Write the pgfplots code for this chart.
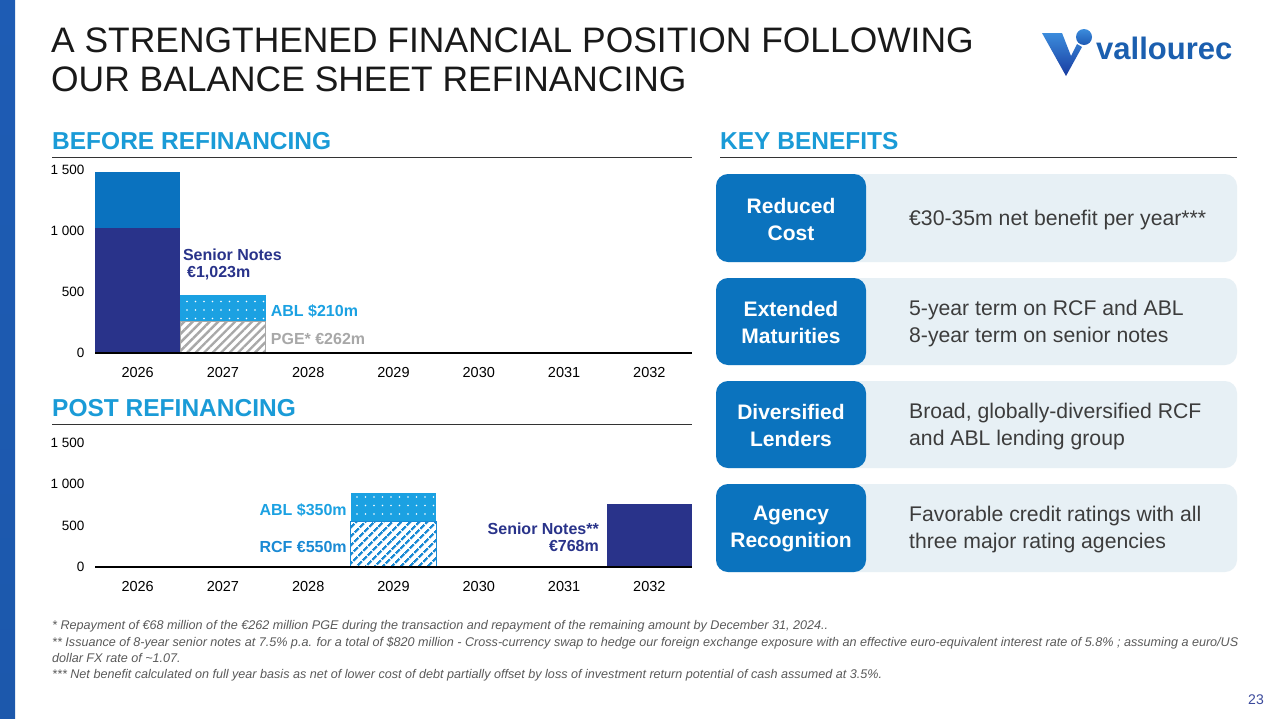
\documentclass[border=0pt]{standalone}
\usepackage{fontspec}
\setmainfont{Liberation Sans}
\usepackage{pgfplots}
\pgfplotsset{compat=1.18}
\usetikzlibrary{patterns.meta}
\definecolor{navy}{HTML}{29338A}
\definecolor{rcfblue}{HTML}{0A72BF}
\definecolor{ablblue}{HTML}{1BA1E2}
\definecolor{hatchblue}{HTML}{1A8AD4}
\definecolor{secblue}{HTML}{1A9BD7}
\definecolor{pgegray}{HTML}{A8A8A8}
\definecolor{boxblue}{HTML}{0B73BE}
\definecolor{boxlight}{HTML}{E7F0F5}
\definecolor{txtgray}{HTML}{3C3C3C}
\definecolor{footgray}{HTML}{5A5A5A}
\definecolor{logoblue}{HTML}{1B5FAF}
\pgfplotsset{
  refax/.style={
    anchor=south west, scale only axis, width=597pt,
    xmin=-0.5, xmax=6.5, ymin=0, ymax=1500,
    ybar stacked, bar width=1, axis on top, clip=false,
    axis x line*=bottom, axis y line*=left,
    axis line style={-},
    y axis line style={draw=none},
    x axis line style={line width=2pt},
    xtick={0,1,2,3,4,5,6},
    xticklabels={2026,2027,2028,2029,2030,2031,2032},
    ytick={0,500,1000,1500},
    yticklabels={0,500,1 000,1 500},
    tick style={draw=none},
    xticklabel style={font=\fontsize{14.5}{15}\selectfont, yshift=-11pt},
    yticklabel style={font=\fontsize{13.5}{14}\selectfont, xshift=-7pt},
  }
}
\begin{document}
\begin{tikzpicture}
\path[use as bounding box] (0,0) rectangle (1280pt,-718pt);
\fill[white] (0,0) rectangle (1280pt,-718pt);
\shade[top color={rgb,255:red,30;green,92;blue,180}, middle color={rgb,255:red,27;green,42;blue,132}, bottom color={rgb,255:red,28;green,88;blue,172}] (0,0) rectangle (15pt,-718pt);
\begin{scope}[x=1pt,y=-1pt]
% title
\node[anchor=base west, inner sep=0, font=\fontsize{35.4}{35}\selectfont, text=black!90] at (51,52) {A STRENGTHENED FINANCIAL POSITION FOLLOWING};
\node[anchor=base west, inner sep=0, font=\fontsize{35.4}{35}\selectfont, text=black!90] at (51,91) {OUR BALANCE SHEET REFINANCING};
% logo
\shade[top color={rgb,255:red,60;green,140;blue,220}, bottom color={rgb,255:red,24;green,60;blue,160}] (1042,33) -- (1062,33) -- (1071,56) -- (1077,44) -- (1082,47) -- (1066,76) -- cycle;
\shade[top color={rgb,255:red,60;green,140;blue,220}, bottom color={rgb,255:red,30;green,90;blue,180}] (1084,37) circle (8);
\node[anchor=base west, inner sep=0, font=\bfseries\fontsize{31}{31}\selectfont, text=logoblue] at (1096,59) {vallourec};
% section headers
\node[anchor=base west, inner sep=0, font=\bfseries\fontsize{24.5}{25}\selectfont, text=secblue] at (52,149) {BEFORE REFINANCING};
\draw[line width=1pt, black!80] (52,157) -- (692,157);
\node[anchor=base west, inner sep=0, font=\bfseries\fontsize{24.5}{25}\selectfont, text=secblue] at (720,149) {KEY BENEFITS};
\draw[line width=1pt, black!80] (720,157) -- (1237,157);
\node[anchor=base west, inner sep=0, font=\bfseries\fontsize{24.5}{25}\selectfont, text=secblue] at (52,416) {POST REFINANCING};
\draw[line width=1pt, black!80] (52,424) -- (692,424);
% key benefits boxes
\foreach \t/\b/\l/\r in {174/262/{Reduced\\Cost}/{€30-35m net benefit per year***},
                         278/365/{Extended\\Maturities}/{5-year term on RCF and ABL\\8-year term on senior notes},
                         381/468/{Diversified\\Lenders}/{Broad, globally-diversified RCF\\and ABL lending group},
                         484/572/{Agency\\Recognition}/{Favorable credit ratings with all\\three major rating agencies}}{
  \fill[boxlight, rounded corners=12pt] (716,\t) rectangle (1237,\b);
  \fill[boxblue, rounded corners=12pt] (716,\t) rectangle (866,\b);
  \node[font=\bfseries\fontsize{21}{27}\selectfont, text=white, align=center] at (791,{(\t+\b)/2+1}) {\l};
  \node[anchor=west, inner sep=0, font=\fontsize{21.2}{27}\selectfont, text=txtgray, align=left] at (909,{(\t+\b)/2+2}) {\r};
}
% footnotes
\begin{scope}[every node/.style={anchor=base west, inner sep=0, font=\itshape\fontsize{12.6}{13}\selectfont, text=footgray}]
\node at (52,629) {* Repayment of €68 million of the €262 million PGE during the transaction and repayment of the remaining amount by December 31, 2024..};
\node at (52,646) {** Issuance of 8-year senior notes at 7.5\% p.a. for a total of \$820 million - Cross-currency swap to hedge our foreign exchange exposure with an effective euro-equivalent interest rate of 5.8\% ; assuming a euro/US};
\node at (52,662) {dollar FX rate of \textasciitilde1.07.};
\node at (52,678) {*** Net benefit calculated on full year basis as net of lower cost of debt partially offset by loss of investment return potential of cash assumed at 3.5\%.};
\end{scope}
\node[font=\fontsize{14}{14}\selectfont, text={rgb,255:red,59;green,74;blue,156}] at (1256,700) {23};
\end{scope}

% BEFORE chart
\begin{axis}[refax, at={(95pt,-353pt)}, height=183pt]
\addplot[fill=white, draw=pgegray, line width=0.6pt, postaction={pattern={Lines[angle=45,distance=6pt,line width=2.4pt]}, pattern color=pgegray}] coordinates {(0,0) (1,262)};
\addplot[fill=ablblue, draw=none, postaction={pattern={Dots[distance=8.5pt,radius=0.9pt]}, pattern color=white}] coordinates {(0,0) (1,210)};
\addplot[fill=navy, draw=none] coordinates {(0,1023) (1,0)};
\addplot[fill=rcfblue, draw=none] coordinates {(0,462) (1,0)};
\node[text=white, font=\bfseries\fontsize{16}{17}\selectfont, align=center] at (axis cs:0,1265) {RCF\\€462m};
\node[anchor=west, inner sep=0, text=navy, font=\bfseries\fontsize{16}{17}\selectfont] at (axis cs:0.53,803) {Senior Notes};
\node[anchor=west, inner sep=0, text=navy, font=\bfseries\fontsize{16}{17}\selectfont] at (axis cs:0.578,656) {€1,023m};
\node[anchor=west, inner sep=0, text=ablblue, font=\bfseries\fontsize{16}{17}\selectfont] at (axis cs:1.56,344) {ABL \$210m};
\node[anchor=west, inner sep=0, text=pgegray, font=\bfseries\fontsize{16}{17}\selectfont] at (axis cs:1.56,115) {PGE* €262m};
\end{axis}

% POST chart
\begin{axis}[refax, at={(95pt,-567pt)}, height=124pt]
\addplot[fill=white, draw=hatchblue, line width=0.8pt, postaction={pattern={Lines[angle=45,distance=6.5pt,line width=2.6pt]}, pattern color=hatchblue}] coordinates {(0,0) (1,0) (2,0) (3,550) (4,0) (5,0) (6,0)};
\addplot[fill=ablblue, draw=none, postaction={pattern={Dots[distance=8.5pt,radius=0.9pt]}, pattern color=white}] coordinates {(0,0) (1,0) (2,0) (3,350) (4,0) (5,0) (6,0)};
\addplot[fill=navy, draw=none] coordinates {(0,0) (1,0) (2,0) (3,0) (4,0) (5,0) (6,768)};
\node[anchor=east, inner sep=0, text=ablblue, font=\bfseries\fontsize{16}{17}\selectfont] at (axis cs:2.454,690) {ABL \$350m};
\node[anchor=east, inner sep=0, text=hatchblue, font=\bfseries\fontsize{16}{17}\selectfont] at (axis cs:2.454,242) {RCF €550m};
\node[anchor=east, inner sep=0, text=navy, font=\bfseries\fontsize{16}{17}\selectfont, align=right] at (axis cs:5.41,363) {Senior Notes**\\€768m};
\end{axis}
\end{tikzpicture}
\end{document}
